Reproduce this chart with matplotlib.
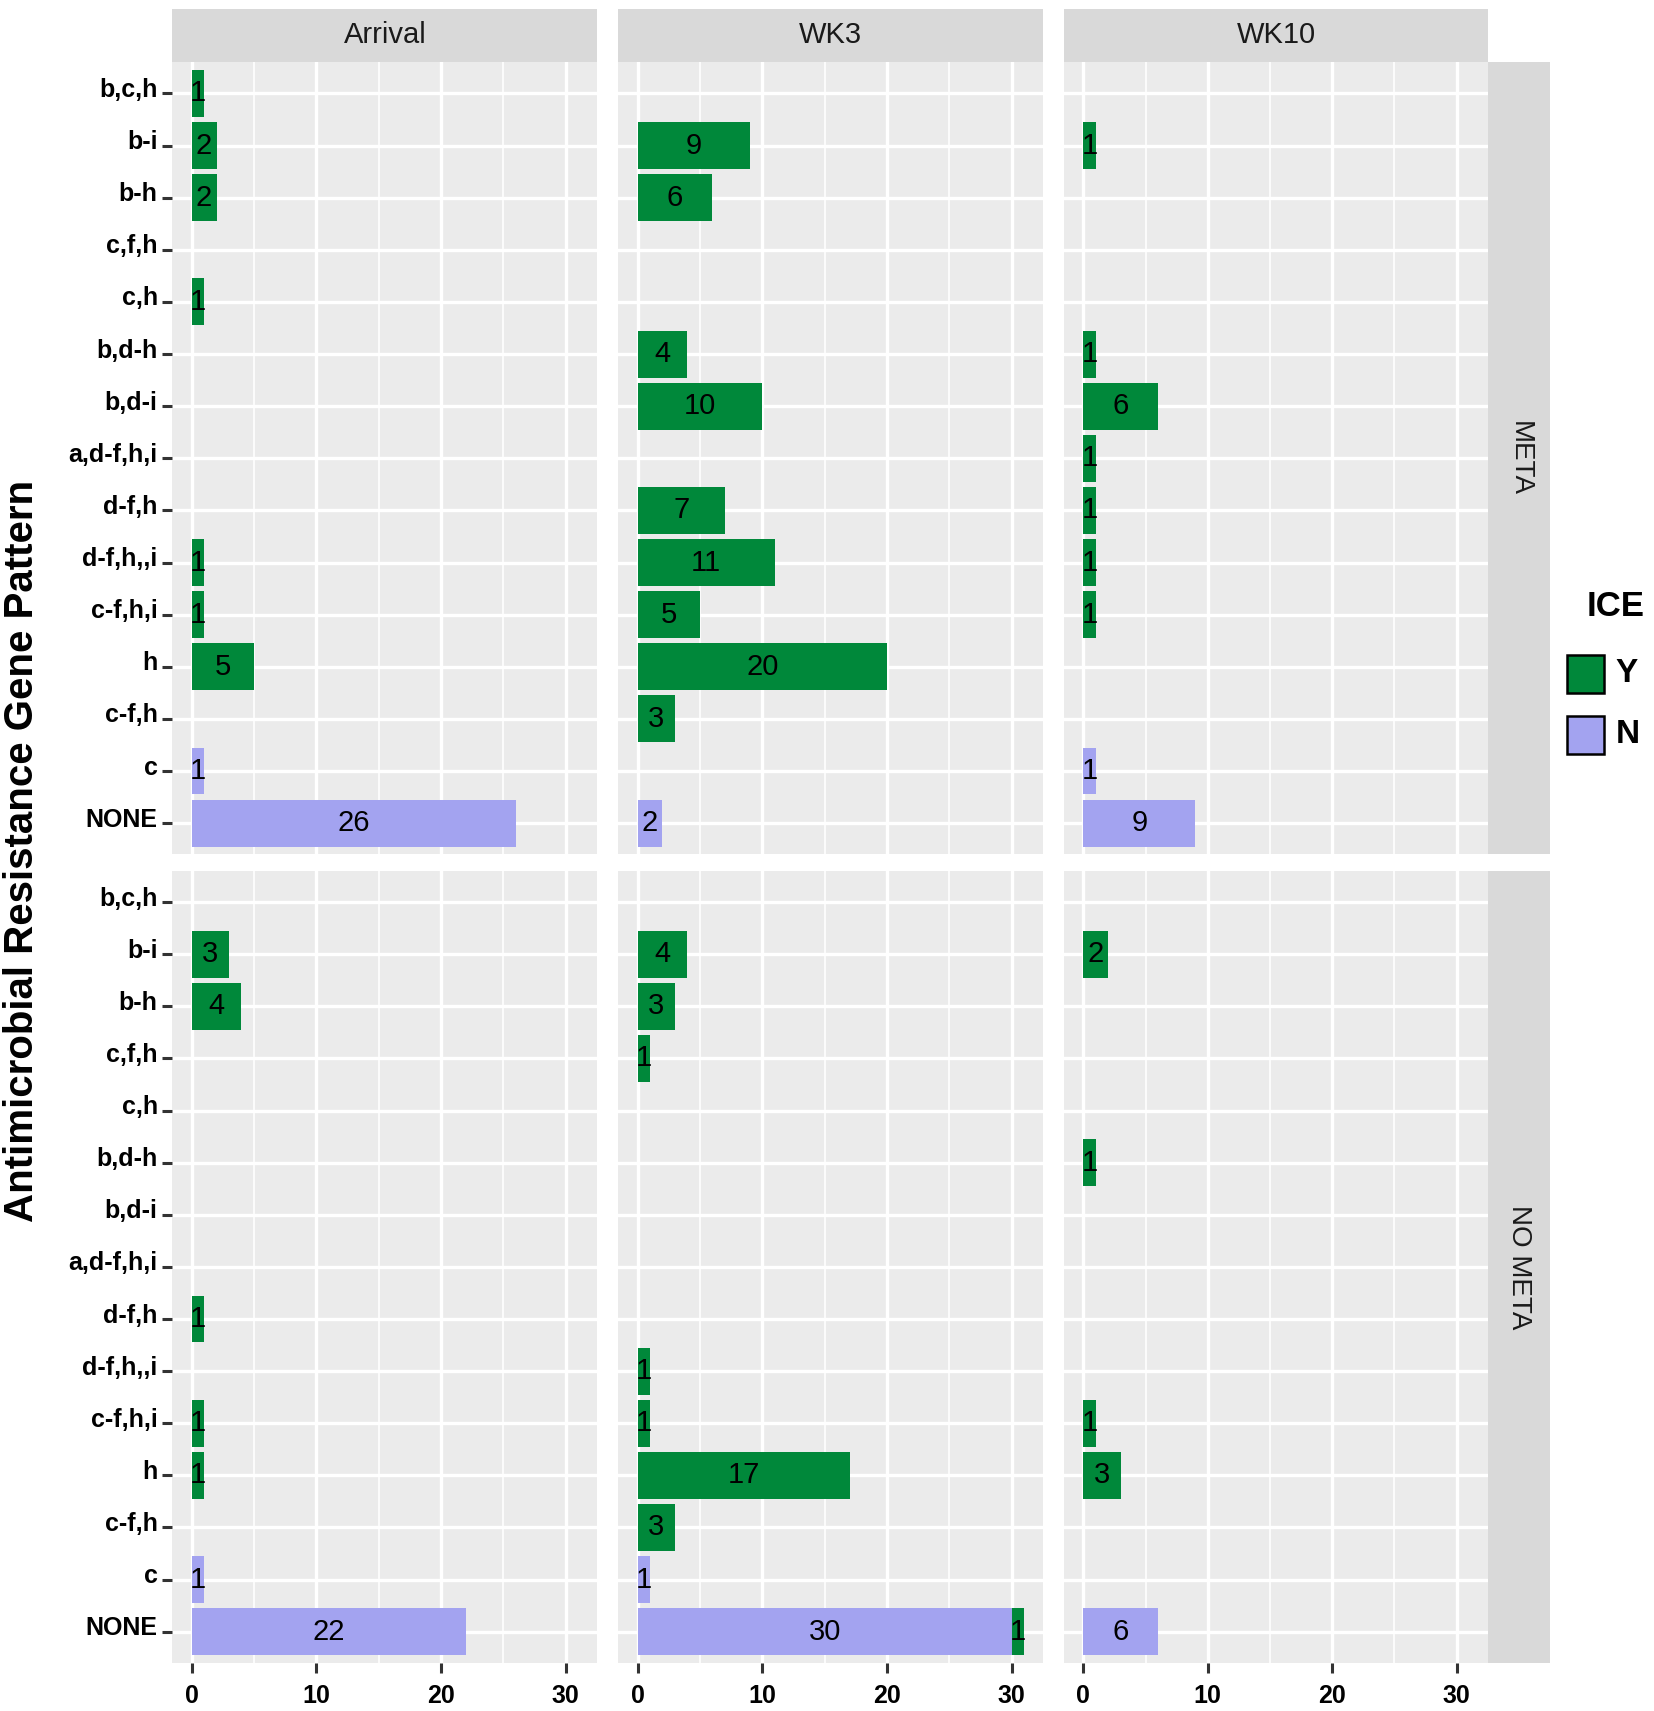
import numpy as np
import matplotlib
matplotlib.use("Agg")
import matplotlib.pyplot as plt
from matplotlib.patches import Rectangle
from matplotlib.transforms import ScaledTranslation

plt.rcParams['font.family'] = ['Liberation Sans', 'DejaVu Sans']

categories = ["b,c,h", "b-i", "b-h", "c,f,h", "c,h", "b,d-h", "b,d-i", "a,d-f,h,i",
              "d-f,h", "d-f,h,,i", "c-f,h,i", "h", "c-f,h", "c", "NONE"]
times = ["Arrival", "WK3", "WK10"]
groups = ["META", "NO META"]

# ICE = Y counts, per category (top to bottom)
meta_arrival_y = [1, 2, 2, 0, 1, 0, 0, 0, 0, 1, 1, 5, 0, 0, 0]
meta_wk3_y = [0, 9, 6, 0, 0, 4, 10, 0, 7, 11, 5, 20, 3, 0, 0]
meta_wk10_y = [0, 1, 0, 0, 0, 1, 6, 1, 1, 1, 1, 0, 0, 0, 0]
nometa_arrival_y = [0, 3, 4, 0, 0, 0, 0, 0, 1, 0, 1, 1, 0, 0, 0]
nometa_wk3_y = [0, 4, 3, 1, 0, 0, 0, 0, 0, 1, 1, 17, 3, 0, 1]
nometa_wk10_y = [0, 2, 0, 0, 0, 1, 0, 0, 0, 0, 1, 3, 0, 0, 0]

# ICE = N counts
meta_arrival_n = [0, 0, 0, 0, 0, 0, 0, 0, 0, 0, 0, 0, 0, 1, 26]
meta_wk3_n = [0, 0, 0, 0, 0, 0, 0, 0, 0, 0, 0, 0, 0, 0, 2]
meta_wk10_n = [0, 0, 0, 0, 0, 0, 0, 0, 0, 0, 0, 0, 0, 1, 9]
nometa_arrival_n = [0, 0, 0, 0, 0, 0, 0, 0, 0, 0, 0, 0, 0, 1, 22]
nometa_wk3_n = [0, 0, 0, 0, 0, 0, 0, 0, 0, 0, 0, 0, 0, 1, 30]
nometa_wk10_n = [0, 0, 0, 0, 0, 0, 0, 0, 0, 0, 0, 0, 0, 0, 6]

panels_y = [[meta_arrival_y, meta_wk3_y, meta_wk10_y],
            [nometa_arrival_y, nometa_wk3_y, nometa_wk10_y]]
panels_n = [[meta_arrival_n, meta_wk3_n, meta_wk10_n],
            [nometa_arrival_n, nometa_wk3_n, nometa_wk10_n]]

colors = {"Y": "#00883A", "N": "#A3A3F0"}
W, H = 1517.0, 1568.0  # layout measured on this scale
col_x = [(158, 548), (567, 957), (976, 1365)]
row_y = [(57, 783), (798, 1524)]

fig = plt.figure(figsize=(16.54, 17.11), dpi=100)
pos = len(categories) - np.arange(len(categories))
lift = ScaledTranslation(0, 0.06, fig.dpi_scale_trans)

for r in range(2):
    for c in range(3):
        x0, x1 = col_x[c]
        y0, y1 = row_y[r]
        ax = fig.add_axes([x0 / W, 1 - y1 / H, (x1 - x0) / W, (y1 - y0) / H])
        ax.set_facecolor("#EBEBEB")
        ax.set_axisbelow(True)
        for s in ax.spines.values():
            s.set_visible(False)
        yv = np.array(panels_y[r][c])
        nv = np.array(panels_n[r][c])
        ax.barh(pos, nv, height=0.9, color=colors["N"], linewidth=0)
        ax.barh(pos, yv, left=nv, height=0.9, color=colors["Y"], linewidth=0)
        for p, v in zip(pos, nv):
            if v > 0:
                ax.text(v / 2, p, str(v), ha="center", va="center", fontsize=21)
        for p, v, l in zip(pos, yv, nv):
            if v > 0:
                ax.text(l + v / 2, p, str(v), ha="center", va="center", fontsize=21)
        ax.set_xlim(-1.55, 32.55)
        ax.set_ylim(0.4, 15.6)
        ax.set_xticks([0, 10, 20, 30])
        ax.set_xticks([5, 15, 25], minor=True)
        ax.set_yticks(pos)
        ax.grid(which="major", color="white", linewidth=2.4)
        ax.grid(which="minor", axis="x", color="white", linewidth=1.2)
        ax.tick_params(which="minor", length=0)
        ax.tick_params(which="major", length=7, width=2.2, color="#333333", labelsize=18)
        ax.tick_params(axis="x", pad=8)
        if c == 0:
            ax.set_yticklabels(categories, fontweight="bold")
            for lab in ax.get_yticklabels():
                lab.set_transform(lab.get_transform() + lift)
        else:
            ax.tick_params(axis="y", length=0, labelleft=False)
        if r == 1:
            ax.set_xticklabels(["0", "10", "20", "30"], fontweight="bold")
        else:
            ax.tick_params(axis="x", length=0, labelbottom=False)

# strips on top
for c in range(3):
    x0, x1 = col_x[c]
    sa = fig.add_axes([x0 / W, 1 - 57 / H, (x1 - x0) / W, 49 / H])
    sa.set_facecolor("#D9D9D9")
    sa.set_xticks([])
    sa.set_yticks([])
    for s in sa.spines.values():
        s.set_visible(False)
    sa.text(0.5, 0.5, times[c], ha="center", va="center", fontsize=21,
            color="#1A1A1A", transform=sa.transAxes)

# strips on right
for r in range(2):
    y0, y1 = row_y[r]
    sa = fig.add_axes([1365 / W, 1 - y1 / H, 57 / W, (y1 - y0) / H])
    sa.set_facecolor("#D9D9D9")
    sa.set_xticks([])
    sa.set_yticks([])
    for s in sa.spines.values():
        s.set_visible(False)
    sa.text(0.5, 0.5, groups[r], ha="center", va="center", fontsize=20,
            rotation=-90, color="#1A1A1A", transform=sa.transAxes)

fig.text(20 / W, 1 - 780 / H, "Antimicrobial Resistance Gene Pattern", rotation=90,
         ha="center", va="center", fontsize=29, fontweight="bold")

# legend
fig.text(1455 / W, 1 - 556 / H, "ICE", ha="left", va="center", fontsize=25, fontweight="bold")
for i, key in enumerate(["Y", "N"]):
    top = 600 + i * 56
    fig.add_artist(Rectangle((1437 / W, 1 - (top + 35) / H), 34 / W, 35 / H,
                             transform=fig.transFigure, facecolor=colors[key],
                             edgecolor="black", linewidth=1.8))
    fig.text(1482 / W, 1 - (top + 17.5) / H, key, ha="left", va="center",
             fontsize=24, fontweight="bold")

fig.savefig("out.png", dpi=100)
